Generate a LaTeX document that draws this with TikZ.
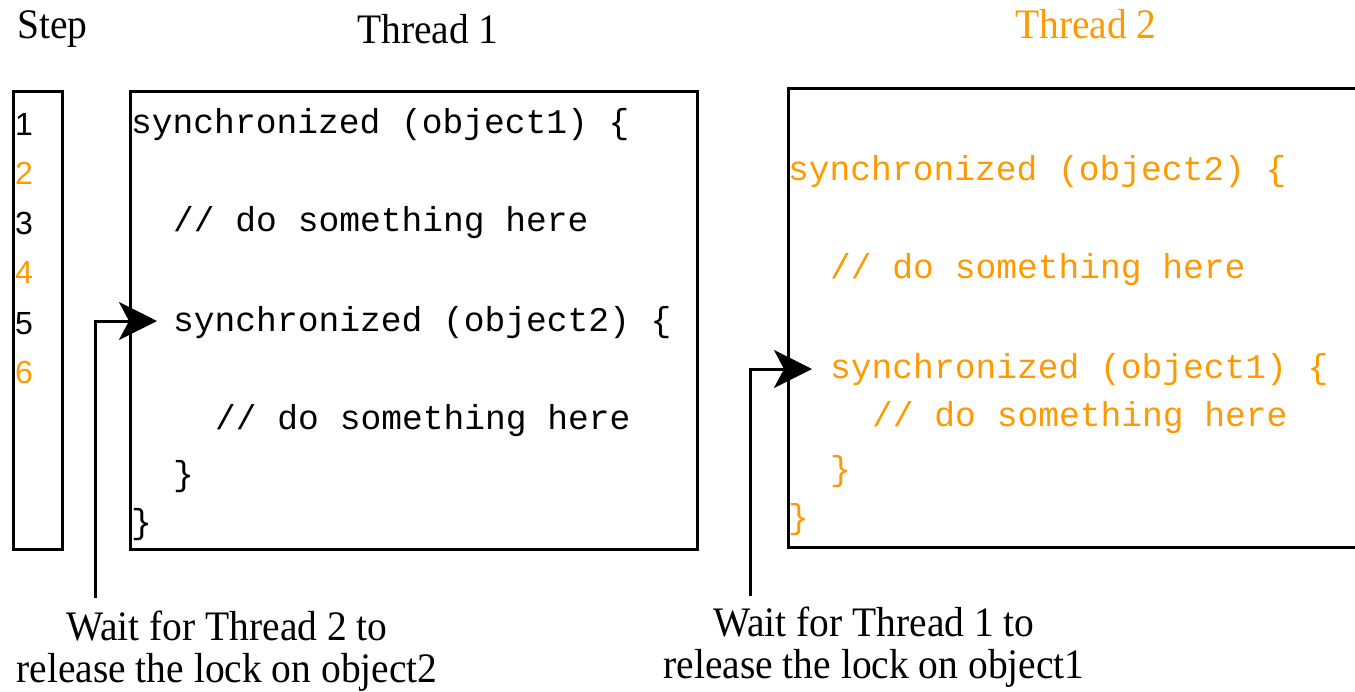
\documentclass[tikz,border=0pt]{standalone}
\usepackage{fontspec}
\setmainfont{Liberation Serif}
\setmonofont{Liberation Mono}
\setsansfont{Liberation Sans}
\newfontfamily\narrowserif[FakeStretch=0.94]{Liberation Serif}
\usetikzlibrary{arrows.meta}
\definecolor{torange}{RGB}{255,153,0}
\tikzset{
  box/.style={draw=black, line width=3pt},
  code/.style={anchor=base west, inner sep=0pt, font=\fontsize{34.6}{35}\selectfont\ttfamily},
  stepnum/.style={anchor=base west, inner sep=0pt, font=\fontsize{32}{32}\selectfont\sffamily},
  head/.style={anchor=base west, inner sep=0pt, font=\fontsize{42}{42}\selectfont\narrowserif},
  note/.style={anchor=base, inner sep=0pt, font=\fontsize{42}{42}\selectfont\narrowserif},
  waitarrow/.style={line width=3pt, -{Stealth[length=38pt, width=38pt, inset=10pt]}},
}
\begin{document}
\begin{tikzpicture}[x=1pt, y=-1pt]
\useasboundingbox (0,0) rectangle (1355,691);
\begin{scope}
\clip (0,0) rectangle (1355,691);
% boxes
\draw[box] (13,91) rectangle (62,549);
\draw[box] (130,91) rectangle (697,549);
\draw[box] (788,88) rectangle (1370,547);
\end{scope}
% headers
\node[head] (hstep) at (17,38) {Step};
\node[head] (ht1) at (357,43) {Thread 1};
\node[head, text=torange] (ht2) at (1015,38) {Thread 2};
% step numbers
\node[stepnum] (s1) at (15,135) {1};
\node[stepnum, text=torange] (s2) at (15,184) {2};
\node[stepnum] (s3) at (15,234) {3};
\node[stepnum, text=torange] (s4) at (15,283) {4};
\node[stepnum] (s5) at (15,334) {5};
\node[stepnum, text=torange] (s6) at (15,383) {6};
% thread 1 code
\node[code] (a1) at (131,133) {synchronized (object1) \{};
\node[code] (a2) at (173,231) {// do something here};
\node[code] (a3) at (173,331) {synchronized (object2) \{};
\node[code] (a4) at (215,429) {// do something here};
\node[code] (a5) at (173,485) {\}};
\node[code] (a6) at (131,533) {\}};
% thread 2 code
\begin{scope}[every node/.append style={text=torange}]
\node[code] (b1) at (788,180) {synchronized (object2) \{};
\node[code] (b2) at (830,278) {// do something here};
\node[code] (b3) at (830,378) {synchronized (object1) \{};
\node[code] (b4) at (872,426) {// do something here};
\node[code] (b5) at (830,480) {\}};
\node[code] (b6) at (788,528) {\}};
\end{scope}
% notes
\node[note] (n1a) at (227,640) {Wait for Thread 2 to};
\node[note] (n1b) at (227,682) {release the lock on object2};
\node[note] (n2a) at (874,636) {Wait for Thread 1 to};
\node[note] (n2b) at (874,678) {release the lock on object1};
% connectors
\coordinate (w1) at (95,598);
\coordinate (w1bend) at (95,321);
\coordinate (w1tip) at (157,321);
\coordinate (w2) at (750,596);
\coordinate (w2bend) at (750,369);
\coordinate (w2tip) at (812,369);
\draw[waitarrow] (w1) -- (w1bend) -- (w1tip);
\draw[waitarrow] (w2) -- (w2bend) -- (w2tip);
\end{tikzpicture}
\end{document}
